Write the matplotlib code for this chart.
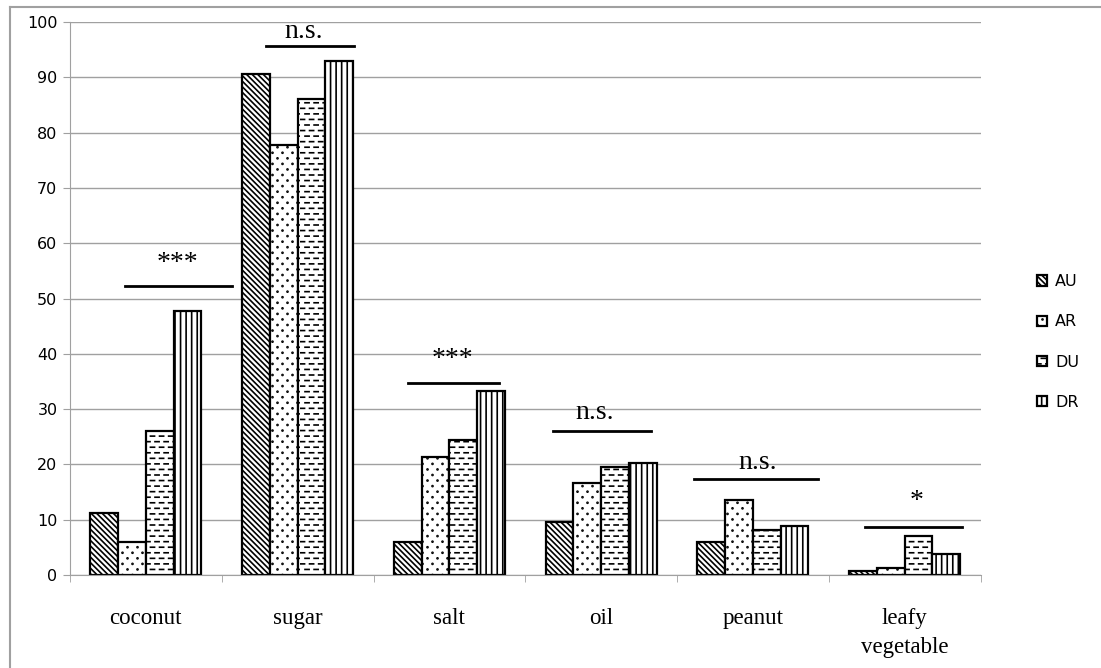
""" Grouped hatched bar chart: share of households by food item and group """

import numpy as np
import matplotlib
matplotlib.use("Agg")
import matplotlib.pyplot as plt
from matplotlib import hatch as mhatch
from matplotlib.path import Path
from matplotlib.lines import Line2D

# Data
categories = ["coconut", "sugar", "salt", "oil", "peanut", "leafy\nvegetable"]
groups = ["AU", "AR", "DU", "DR"]
au = [11.2, 90.6, 6.0, 9.5, 6.0, 0.7]
ar = [5.9, 77.8, 21.4, 16.6, 13.6, 1.2]
du = [26.0, 86.0, 24.5, 19.6, 8.1, 7.1]
dr = [47.7, 93.0, 33.3, 20.2, 8.9, 3.8]

# Significance markers: label, bar height, line start/end relative to category
sig_labels = ["***", "n.s.", "***", "n.s.", "n.s.", "*"]
sig_heights = [52.3, 95.7, 34.8, 26.1, 17.4, 8.7]
sig_start = [-0.14, -0.21, -0.27, -0.32, -0.39, -0.26]
sig_end = [0.57, 0.37, 0.33, 0.33, 0.43, 0.38]
sig_text_x = [0.21, 0.04, 0.02, -0.04, 0.03, 0.08]
sig_text_y = [56.4, 98.2, 38.9, 29.3, 20.4, 13.3]


class DashHatch(mhatch.HatchPatternBase):
    """Staggered short dashes, used in place of the plain '-' hatch."""

    def __init__(self, hatch, density):
        self.num_rows = 18 if "-" in hatch else 0
        self.per_row = 11
        self.num_vertices = self.num_rows * self.per_row * 2

    def set_vertices_and_codes(self, vertices, codes):
        k = 0
        for i in range(self.num_rows):
            y = (i + 0.5) / self.num_rows
            off = 0.5 if i % 2 else 0.0
            for j in range(self.per_row):
                x0 = (j + off + 0.05) / self.per_row
                x1 = x0 + 0.45 / self.per_row
                vertices[k] = (x0, y)
                vertices[k + 1] = (x1, y)
                codes[k] = Path.MOVETO
                codes[k + 1] = Path.LINETO
                k += 2


class DotHatch(mhatch.HatchPatternBase):
    """Sparse staggered small dots, used in place of the '.' hatch."""

    def __init__(self, hatch, density):
        self.num_rows = 18 if "." in hatch else 0
        self.per_row = 10
        circ = Path.unit_circle()
        self.shape_vertices = circ.vertices
        self.shape_codes = circ.codes
        self.num_vertices = self.num_rows * self.per_row * len(circ.vertices)

    def set_vertices_and_codes(self, vertices, codes):
        nv = len(self.shape_vertices)
        k = 0
        for i in range(self.num_rows):
            y = (i + 0.5) / self.num_rows
            off = 0.5 if i % 2 else 0.0
            for j in range(self.per_row):
                xc = (j + off + 0.25) / self.per_row
                vertices[k:k + nv] = self.shape_vertices * 0.005 + (xc, y)
                codes[k:k + nv] = self.shape_codes
                k += nv


swap = {mhatch.HorizontalHatch: DashHatch, mhatch.SmallFilledCircles: DotHatch}
mhatch._hatch_types = [swap.get(t, t) for t in mhatch._hatch_types]

plt.rcParams["hatch.linewidth"] = 1.2

fig = plt.figure(figsize=(11.01, 6.68), dpi=100)
ax = fig.add_axes([70 / 1101, 1 - 575 / 668, 910.5 / 1101, 553 / 668])

x = np.arange(len(categories))
width = 0.183
hatches = ["\\\\\\\\\\\\", ".", "-", "|||"]
series = [au, ar, du, dr]
for i, (name, vals, h) in enumerate(zip(groups, series, hatches)):
    ax.bar(x + (i - 1.5) * width, vals, width, label=name, color="white",
           edgecolor="black", linewidth=1.6, hatch=h, zorder=3)

# significance bars and labels
for i in range(len(categories)):
    ax.plot([i + sig_start[i], i + sig_end[i]], [sig_heights[i]] * 2,
            color="black", linewidth=2, zorder=4, clip_on=False)
    ax.text(i + sig_text_x[i], sig_text_y[i], sig_labels[i], ha="center",
            va="center", fontsize=20, family="Liberation Serif", zorder=4)

ax.set_xlim(-0.5, len(categories) - 0.5)
ax.set_ylim(0, 100)
ax.set_yticks(range(0, 101, 10))
ax.set_xticks(x)
ax.set_xticklabels(categories, family="Liberation Serif", fontsize=16.5,
                   linespacing=1.5, va="top")
ax.set_xticks(np.arange(-0.5, len(categories)), minor=True)
ax.tick_params(axis="x", which="major", length=0, pad=24)
ax.tick_params(axis="x", which="minor", length=5, color="#a0a0a0")
ax.tick_params(axis="y", length=5, color="#a0a0a0", labelsize=11.5, pad=4)

ax.grid(axis="y", color="#a0a0a0", linewidth=1, zorder=0)
ax.set_axisbelow(True)
for side in ["top", "right"]:
    ax.spines[side].set_visible(False)
for side in ["left", "bottom"]:
    ax.spines[side].set_color("#a0a0a0")
ax.spines["bottom"].set_zorder(5)

ax.legend(loc="center left", bbox_to_anchor=(1029 / 1101, 1 - 342 / 668),
          bbox_transform=fig.transFigure, frameon=False, fontsize=11.5,
          handlelength=0.65, handleheight=0.65, handletextpad=0.5,
          labelspacing=1.57, borderpad=0)

# outer chart border (left and top edges only are visible)
fig.add_artist(Line2D([10 / 1101, 10 / 1101], [0, 1 - 7 / 668],
                      color="#a0a0a0", linewidth=1.5, transform=fig.transFigure))
fig.add_artist(Line2D([10 / 1101, 1], [1 - 7 / 668, 1 - 7 / 668],
                      color="#a0a0a0", linewidth=1.5, transform=fig.transFigure))

fig.savefig("out.png", dpi=100)
